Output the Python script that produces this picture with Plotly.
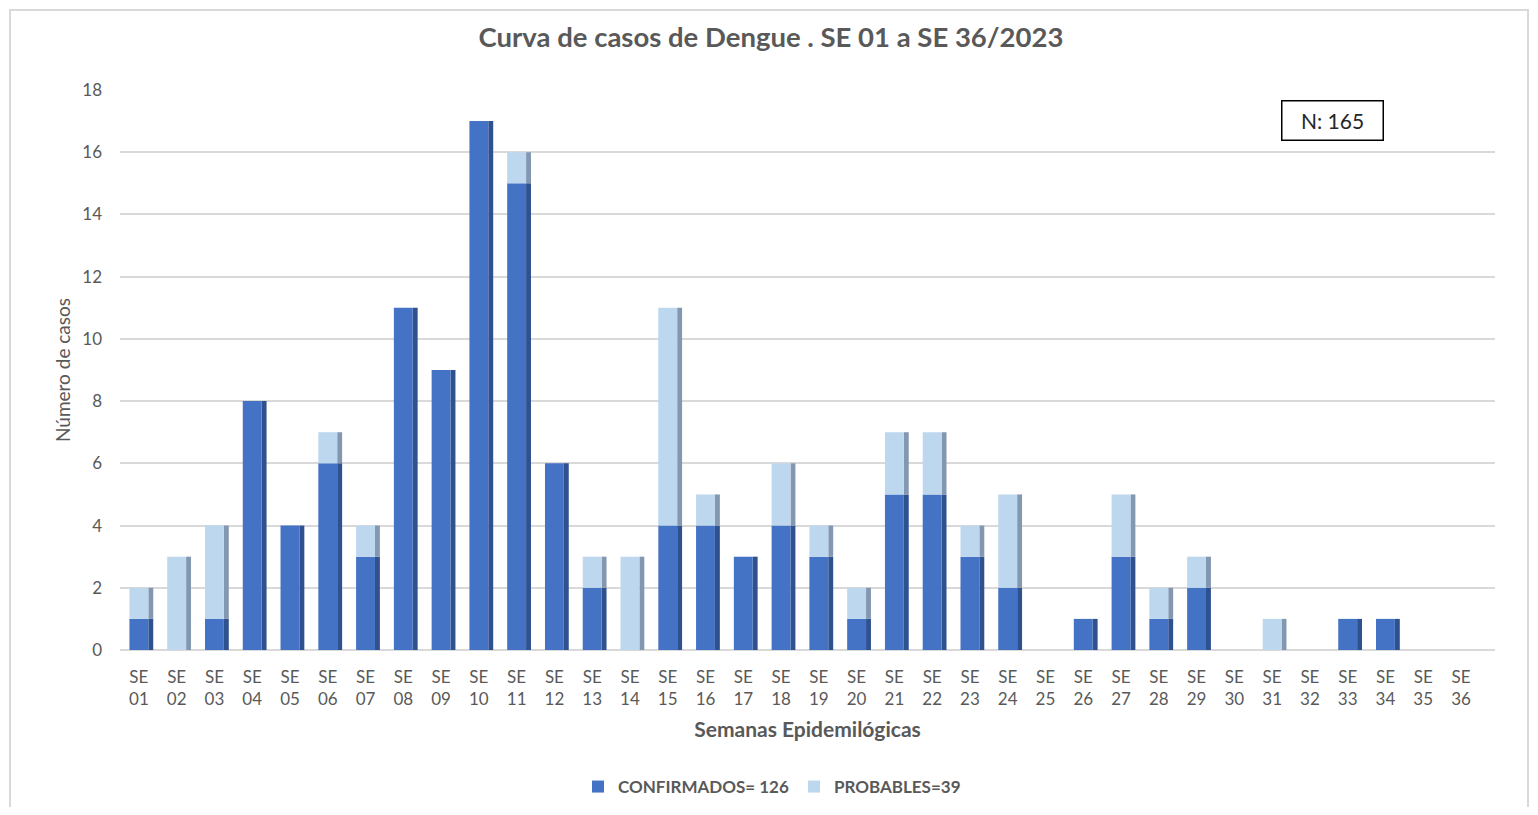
import plotly.graph_objects as go

semanas = [f"SE {i:02d}" for i in range(1, 37)]
tick_labels = [f"SE<br>{i:02d}" for i in range(1, 37)]
confirmados = [1, 0, 1, 8, 4, 6, 3, 11, 9, 17, 15, 6, 2, 0, 4, 4, 3, 4, 3, 1, 5, 5, 3, 2, 0, 1, 3, 1, 2, 0, 0, 0, 1, 1, 0, 0]
probables = [1, 3, 3, 0, 0, 1, 1, 0, 0, 0, 1, 0, 1, 3, 7, 1, 0, 2, 1, 1, 2, 2, 1, 3, 0, 0, 2, 1, 1, 0, 1, 0, 0, 0, 0, 0]

C_CONF = "#4472C4"
C_CONF_SIDE = "#2F528F"
C_PROB = "#BDD7EE"
C_PROB_SIDE = "#8497B0"
FONT = "Lato"
GREY = "#595959"

# page is offset by the 8px body margin
W, H = 1522, 799
OFF = 8
PL, PR, PT, PB = 120, 1495, 90, 650  # plot area in page pixels
ml, mr, mt, mb = PL - OFF, OFF + W - PR, PT - OFF, OFF + H - PB
pw, ph = PR - PL, PB - PT

def px(p):
    return (p - PL) / pw

def py(q):
    return (PB - q) / ph

xs = list(range(len(semanas)))
fig = go.Figure()

# side faces (pseudo-3D)
fig.add_trace(go.Bar(x=xs, y=confirmados, base=[0]*len(xs), offset=0.25, width=0.13,
                     marker=dict(color=C_CONF_SIDE, line=dict(width=0)), showlegend=False, hoverinfo="skip"))
fig.add_trace(go.Bar(x=xs, y=probables, base=confirmados, offset=0.25, width=0.13,
                     marker=dict(color=C_PROB_SIDE, line=dict(width=0)), showlegend=False, hoverinfo="skip"))
# front faces
fig.add_trace(go.Bar(x=xs, y=confirmados, base=[0]*len(xs), width=0.5, name="<b>CONFIRMADOS= 126</b>",
                     marker=dict(color=C_CONF, line=dict(width=0))))
fig.add_trace(go.Bar(x=xs, y=probables, base=confirmados, width=0.5, name="<b>PROBABLES=39</b>",
                     marker=dict(color=C_PROB, line=dict(width=0))))

fig.update_layout(
    width=W, height=H,
    barmode="overlay",
    paper_bgcolor="white", plot_bgcolor="white",
    margin=dict(l=ml, r=mr, t=mt, b=mb, autoexpand=False),
    font=dict(family=FONT, color=GREY, size=17),
    title=dict(text="<b>Curva de casos de Dengue . SE 01 a SE 36/2023</b>",
               x=(771 - OFF) / W, xanchor="center", y=1 - (37 - OFF) / H, yanchor="middle",
               font=dict(family=FONT, size=27.5, color=GREY)),
    legend=dict(orientation="h", x=px(772), xanchor="center", y=py(787), yanchor="middle",
                font=dict(family=FONT, size=17, color=GREY), traceorder="normal",
                itemsizing="constant", itemwidth=30, tracegroupgap=0),
    xaxis=dict(tickmode="array", tickvals=xs, ticktext=tick_labels, range=[-0.5, 35.9],
               showgrid=False, zeroline=False, showline=False, ticks="", automargin=False,
               tickfont=dict(family=FONT, size=17, color=GREY), ticklabelstandoff=15,
               title=dict(text="<b>Semanas Epidemilógicas</b>", standoff=14,
                          font=dict(family=FONT, size=21, color=GREY))),
    yaxis=dict(range=[0, 18], dtick=2, showgrid=True, gridcolor="#D9D9D9", gridwidth=1.5,
               zeroline=True, zerolinecolor="#D9D9D9", zerolinewidth=1.5, showline=False, ticks="",
               automargin=False,
               tickfont=dict(family=FONT, size=17, color=GREY), ticklabelstandoff=17,
               title=dict(text="Número de casos", standoff=6,
                          font=dict(family=FONT, size=19, color=GREY))),
    showlegend=True,
)

# outer border
fig.add_shape(type="rect", xref="paper", yref="paper", x0=px(10), x1=px(1528), y0=py(830), y1=py(10),
              line=dict(color="#D9D9D9", width=2), fillcolor="rgba(0,0,0,0)", layer="below")

fig.add_annotation(text="N: 165", xref="paper", yref="paper", x=px(1332), y=py(120),
                   xanchor="center", yanchor="middle",
                   showarrow=False, font=dict(family=FONT, size=21, color="#262626"),
                   bordercolor="#000000", borderwidth=1.5, borderpad=5, bgcolor="white",
                   width=90, height=28)

fig.write_html("out.html")
